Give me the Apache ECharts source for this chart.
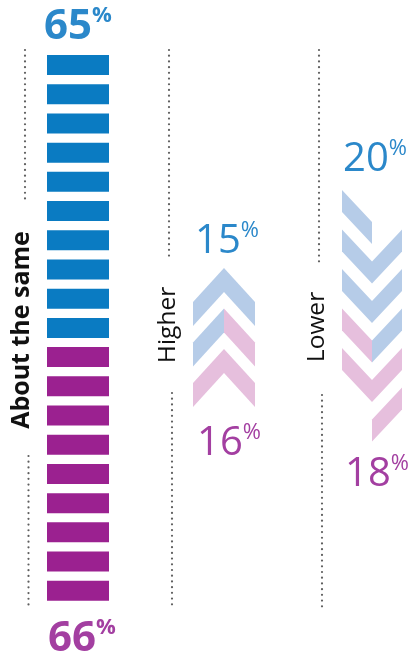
<!DOCTYPE html>
<html>
<head>
<meta charset="utf-8">
<script src="https://cdn.jsdelivr.net/npm/echarts@6/dist/echarts.min.js"></script>
<style>
html, body { margin: 0; padding: 0; background: #fff; }
#chart { width: 410px; height: 655px; }
</style>
</head>
<body>
<div id="chart"></div>
<script>
// group 0 = top (blue), group 1 = bottom (purple)
var sameValues = [65, 66];
var higherValues = [15, 16];
var lowerValues = [20, 18];

// "About the same": number of bars per group, top to bottom
var sameBars = [10, 9];

// chevron halves, top to bottom: group index, null = no half
var higherLeft = [0, 0, 1];
var higherRight = [0, 1, 1];
var lowerLeft = [0, 0, 0, 1, 1, null];
var lowerRight = [null, 0, 0, 0, 1, 1];

var barColors = ['#0a7bc2', '#9b2190'];
var chevronColors = ['#b6cce8', '#e6bfdd'];
var textColors = ['#2b88ca', '#a33fa1'];
var FONT = '"Open Sans", "Noto Sans", sans-serif';

// build bar slots
var slots = [], blueData = [], purpleData = [];
var total = sameBars[0] + sameBars[1];
for (var i = 0; i < total; i++) {
    slots.push(String(i + 1));
    blueData.push(i < sameBars[0] ? 1 : '-');
    purpleData.push(i < sameBars[0] ? '-' : 1);
}

function halves(left, right) {
    var out = [];
    for (var k = 0; k < left.length; k++) {
        if (left[k] !== null) out.push([0, k, left[k]]);
        if (right[k] !== null) out.push([1, k, right[k]]);
    }
    return out;
}

// draws one half of a chevron inside its slot box
function chevronItem(dir, rise, thick) {
    return function (params, api) {
        var side = api.value(0), slot = api.value(1), g = api.value(2);
        var p0 = api.coord([side, slot]);
        var p1 = api.coord([side + 1, slot]);
        var y = p0[1];
        var xc = side === 0 ? p1[0] : p0[0];   // centre of chevron
        var xo = side === 0 ? p0[0] : p1[0];   // outer edge
        var pts;
        if (dir === 'up') {
            pts = [[xc, y], [xo, y + rise], [xo, y + rise + thick], [xc, y + thick]];
        } else {
            pts = [[xo, y], [xc, y + rise], [xc, y + rise + thick], [xo, y + thick]];
        }
        return {
            type: 'polygon',
            shape: { points: pts },
            style: { fill: chevronColors[g] }
        };
    };
}

function pctText(value, g, x, y, bold) {
    var w = bold ? 'bold' : 'normal';
    return {
        type: 'text',
        x: x,
        y: y,
        style: {
            text: '{n|' + value + '}{p|%}',
            align: 'center',
            verticalAlign: 'top',
            rich: {
                n: { fontSize: bold ? 42 : 40, fontWeight: w, fontFamily: FONT, fill: textColors[g], lineHeight: 44 },
                p: { fontSize: 22, fontWeight: w, fontFamily: FONT, fill: textColors[g], verticalAlign: 'top', lineHeight: 44 }
            }
        }
    };
}

function rotText(text, x, y, bold) {
    return {
        type: 'text',
        x: x,
        y: y,
        rotation: Math.PI / 2,
        style: {
            text: text,
            align: 'center',
            verticalAlign: 'middle',
            fontSize: bold ? 25 : 24.5,
            fontWeight: bold ? 'bold' : 'normal',
            fontFamily: FONT,
            fill: '#111'
        }
    };
}

function dots(x, y1, y2) {
    return {
        type: 'line',
        shape: { x1: x, y1: y1, x2: x, y2: y2 },
        style: { stroke: '#5f5f5f', lineWidth: 2.2, lineDash: [0.01, 5.7], lineCap: 'round' }
    };
}

var chart = echarts.init(document.getElementById('chart'));
var option = {
    animation: false,
    grid: [
        { left: 47, top: 50.4, width: 62, height: 555 },
        { left: 193, top: 268, width: 62, height: 121.5 },
        { left: 342, top: 190, width: 60, height: 237 }
    ],
    xAxis: [
        { gridIndex: 0, type: 'value', min: 0, max: 1, show: false },
        { gridIndex: 1, type: 'value', min: 0, max: 2, show: false },
        { gridIndex: 2, type: 'value', min: 0, max: 2, show: false }
    ],
    yAxis: [
        { gridIndex: 0, type: 'category', data: slots, inverse: true, show: false },
        { gridIndex: 1, type: 'value', min: 0, max: higherLeft.length, inverse: true, show: false },
        { gridIndex: 2, type: 'value', min: 0, max: lowerLeft.length, inverse: true, show: false }
    ],
    series: [
        {
            type: 'bar', xAxisIndex: 0, yAxisIndex: 0, barWidth: 20, barGap: '-100%',
            itemStyle: { color: barColors[0] }, data: blueData, silent: true
        },
        {
            type: 'bar', xAxisIndex: 0, yAxisIndex: 0, barWidth: 20, barGap: '-100%',
            itemStyle: { color: barColors[1] }, data: purpleData, silent: true
        },
        {
            type: 'custom', xAxisIndex: 1, yAxisIndex: 1, silent: true,
            renderItem: chevronItem('up', 34, 24),
            data: halves(higherLeft, higherRight)
        },
        {
            type: 'custom', xAxisIndex: 2, yAxisIndex: 2, silent: true,
            renderItem: chevronItem('down', 32, 22),
            data: halves(lowerLeft, lowerRight)
        }
    ],
    graphic: [
        dots(25, 50, 200), dots(28.5, 456, 608),
        dots(169, 50, 261), dots(172, 393, 608),
        dots(319, 50, 262), dots(322, 395, 608),
        rotText('About the same', 22, 330, true),
        rotText('Higher', 168, 325, false),
        rotText('Lower', 317, 327, false),
        pctText(sameValues[0], 0, 78, 5, true),
        pctText(sameValues[1], 1, 82, 617, true),
        pctText(higherValues[0], 0, 227, 220, false),
        pctText(higherValues[1], 1, 229, 422, false),
        pctText(lowerValues[0], 0, 375, 138, false),
        pctText(lowerValues[1], 1, 377, 453, false)
    ]
};
chart.setOption(option);
</script>
</body>
</html>
